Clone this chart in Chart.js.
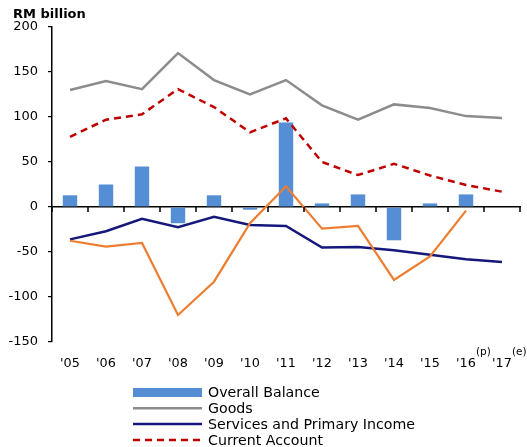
<!DOCTYPE html>
<html><head><meta charset="utf-8">
<script src="https://cdn.jsdelivr.net/npm/chart.js@4/dist/chart.umd.min.js"></script>
<style>html,body{margin:0;padding:0;background:#fff;}#wrap{width:527px;height:447px;position:relative;}</style>
</head><body><div id="wrap"><canvas id="c" width="527" height="447"></canvas></div>
<script>
const titleText = "RM billion";
const years = ["'05","'06","'07","'08","'09","'10","'11","'12","'13","'14","'15","'16","'17"];
const yearNotes = ["","","","","","","","","","","","(p)","(e)"];
const overallBalance = [13,25,45,-18,13,-3,94,4,14,-37,4,14,null];
const goods = [130,140,131,171,141,125,141,113,97,114,110,101,99];
const servicesPrimaryIncome = [-36,-27,-13,-22.5,-11,-20,-21,-45,-44.5,-48,-53,-58,-61];
const currentAccount = [78,97,103,131,111,83,98.5,50,35.5,48,35,24.5,17];
const financialAccount = [-37.5,-44,-40,-120,-83,-18,23,-24,-21,-81,-55,-4,null];
const yMin = -150, yMax = 200, yStep = 50;

const FONT = "'DejaVu Sans', sans-serif";

const customDraw = {
  id: 'customDraw',
  afterDraw(chart) {
    const ctx = chart.ctx;
    const xs = chart.scales.x;
    const ys = chart.scales.y;
    ctx.save();
    ctx.setLineDash([]);
    // zero-line tick marks at category boundaries
    const y0 = Math.round(ys.getPixelForValue(0));
    ctx.fillStyle = '#000000';
    const n = years.length;
    const left = chart.chartArea.left, right = chart.chartArea.right;
    for (let i = 0; i <= n; i++) {
      const xb = Math.round(left + (right - left) * i / n);
      ctx.fillRect(xb - 0.75, y0, 1.5, 5);
    }
    ctx.textAlign = 'left';
    ctx.textBaseline = 'alphabetic';
    ctx.font = "bold 13px " + FONT;
    ctx.fillText(titleText, 13, 18);
    years.forEach((lab, i) => {
      const x = xs.getPixelForValue(i);
      ctx.font = "12.8px " + FONT;
      const w1 = ctx.measureText(lab).width;
      const start = x - w1 / 2;
      ctx.fillText(lab, start, 367);
      if (yearNotes[i]) {
        ctx.font = "10.5px " + FONT;
        ctx.fillText(yearNotes[i], start + w1, 355);
      }
    });
    const items = chart.data.datasets.filter(d => d.inLegend);
    items.sort((a, b) => a.legendRank - b.legendRank);
    items.forEach((d, k) => {
      const y = 392.5 + k * 15.8;
      const x0 = 133, x1 = 202;
      if (d.type === 'bar') {
        ctx.fillStyle = d.backgroundColor;
        ctx.fillRect(x0, y - 4.5, x1 - x0, 9);
      } else {
        ctx.strokeStyle = d.borderColor;
        ctx.lineWidth = d.borderWidth;
        ctx.setLineDash(d.borderDash || []);
        ctx.beginPath(); ctx.moveTo(x0, y); ctx.lineTo(x1, y); ctx.stroke();
        ctx.setLineDash([]);
      }
      ctx.fillStyle = '#000';
      ctx.font = "14.2px " + FONT;
      ctx.textBaseline = 'middle';
      ctx.fillText(d.label, 208, y + 1);
      ctx.textBaseline = 'alphabetic';
    });
    ctx.restore();
  }
};

new Chart(document.getElementById('c'), {
  type: 'bar',
  data: {
    labels: years,
    datasets: [
      { type: 'bar', label: 'Overall Balance', data: overallBalance, backgroundColor: '#558ED5',
        barPercentage: 0.4, categoryPercentage: 1, order: 10, inLegend: true, legendRank: 0 },
      { type: 'line', label: 'Goods', data: goods, borderColor: '#8C8C8C', borderWidth: 2.5,
        pointRadius: 0, tension: 0, order: 4, inLegend: true, legendRank: 1 },
      { type: 'line', label: 'Services and Primary Income', data: servicesPrimaryIncome, borderColor: '#15187A', borderWidth: 2.5,
        pointRadius: 0, tension: 0, order: 3, inLegend: true, legendRank: 2 },
      { type: 'line', label: 'Current Account', data: currentAccount, borderColor: '#C00000', borderWidth: 2.5,
        borderDash: [7, 5], pointRadius: 0, tension: 0, order: 2, inLegend: true, legendRank: 3 },
      { type: 'line', label: 'Financial Account', data: financialAccount, borderColor: '#ED7D31', borderWidth: 2.2,
        pointRadius: 0, tension: 0, order: 1, inLegend: false }
    ]
  },
  options: {
    responsive: false,
    animation: false,
    layout: { padding: { top: 27, bottom: 105, left: 0, right: 7 } },
    plugins: { legend: { display: false }, title: { display: false }, tooltip: { enabled: false } },
    scales: {
      x: {
        position: { y: 0 },
        offset: true,
        grid: { display: false },
        border: { display: true, color: '#000', width: 1.5 },
        ticks: { display: false }
      },
      y: {
        min: yMin, max: yMax,
        afterFit(s) { s.width = 52; },
        grid: { drawOnChartArea: false, drawTicks: true, tickLength: 4, color: '#000', lineWidth: 1.2 },
        border: { display: true, color: '#000', width: 1.5 },
        ticks: { stepSize: yStep, color: '#000', padding: 10, font: { family: FONT, size: 13 } }
      }
    }
  },
  plugins: [customDraw]
});
</script>
</body></html>
